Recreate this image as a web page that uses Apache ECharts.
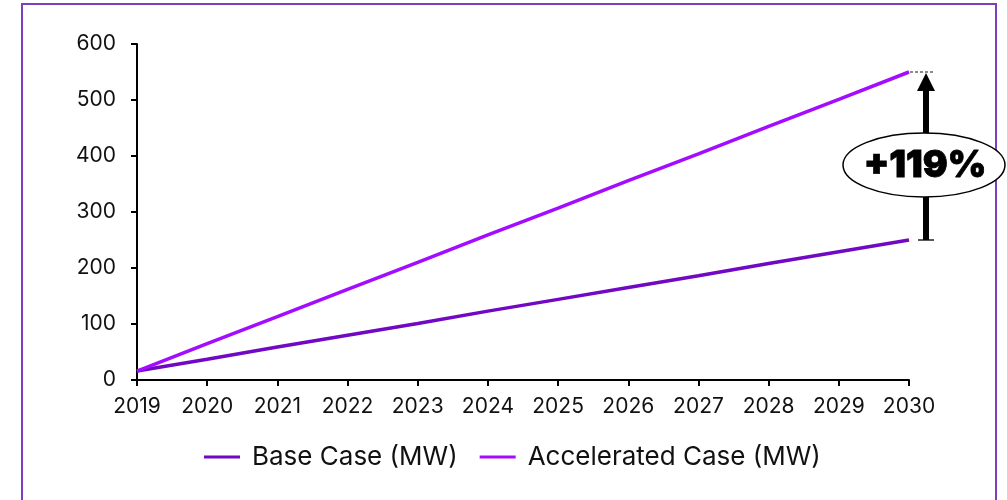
<!DOCTYPE html>
<html>
<head>
<meta charset="utf-8">
<script src="https://cdn.jsdelivr.net/npm/echarts@6/dist/echarts.min.js"></script>
<style>
  html, body { margin: 0; padding: 0; background: #fff; }
  #main { width: 1007px; height: 500px; }
</style>
</head>
<body>
<div id="main"></div>
<script>
// categories / values
var years = ["2019", "2020", "2021", "2022", "2023", "2024", "2025", "2026", "2027", "2028", "2029", "2030"];
var baseCase = [16, 37, 59, 80, 101, 123, 144, 165, 186, 208, 229, 250];
var accelCase = [16, 65, 113, 162, 210, 259, 307, 356, 404, 453, 501, 550];
var yTicks = [0, 100, 200, 300, 400, 500, 600];
var growthLabel = "+119%";

var baseColor = "#7008c4";
var accelColor = "#a30cff";
var fontName = "Inter";

var chart = echarts.init(document.getElementById("main"));

var option = {
  animation: false,
  backgroundColor: "#fff",
  grid: { left: 137, right: 98, top: 44, bottom: 120 },
  legend: {
    top: 439,
    left: 199,
    icon: "rect",
    itemWidth: 36,
    itemHeight: 3,
    itemGap: 22,
    textStyle: { fontFamily: fontName, fontSize: 26, color: "#111", padding: [0, 0, 0, 7] },
    data: ["Base Case (MW)", "Accelerated Case (MW)"]
  },
  xAxis: {
    type: "category",
    boundaryGap: false,
    data: years,
    axisLine: { lineStyle: { color: "#000", width: 2 } },
    axisTick: { show: true, length: 6, alignWithLabel: true, lineStyle: { color: "#000", width: 2 } },
    axisLabel: { fontFamily: fontName, fontSize: 21, color: "#111", margin: 16, interval: 0 }
  },
  yAxis: {
    type: "value",
    min: yTicks[0],
    max: yTicks[yTicks.length - 1],
    interval: 100,
    axisLine: { show: true, lineStyle: { color: "#000", width: 2 } },
    axisTick: { show: true, length: 6, lineStyle: { color: "#000", width: 2 } },
    splitLine: { show: false },
    axisLabel: { fontFamily: fontName, fontSize: 21, color: "#111", margin: 21 }
  },
  series: [
    {
      name: "Base Case (MW)",
      type: "line",
      data: baseCase,
      showSymbol: false,
      lineStyle: { color: baseColor, width: 3.5 },
      itemStyle: { color: baseColor }
    },
    {
      name: "Accelerated Case (MW)",
      type: "line",
      data: accelCase,
      showSymbol: false,
      lineStyle: { color: accelColor, width: 3.5 },
      itemStyle: { color: accelColor }
    }
  ]
};
chart.setOption(option);

// annotation: arrow from base end to accelerated end, placed via the axes
var last = years.length - 1;
var pBase = chart.convertToPixel({ gridIndex: 0 }, [years[last], baseCase[last]]);
var pAcc = chart.convertToPixel({ gridIndex: 0 }, [years[last], accelCase[last]]);
var ax = pAcc[0] + 17;
var midY = (pBase[1] + pAcc[1]) / 2 + 9;

chart.setOption({
  graphic: [
    // outer frame
    { type: "rect", shape: { x: 22, y: 4, width: 974, height: 520 }, style: { fill: null, stroke: "#7b3fc0", lineWidth: 2 }, z: 5 },
    // caps
    { type: "line", shape: { x1: pAcc[0] + 1, y1: pAcc[1], x2: ax + 8, y2: pAcc[1] }, style: { stroke: "#666", lineWidth: 1.5, lineDash: [3, 2] } },
    { type: "line", shape: { x1: ax - 8, y1: pBase[1], x2: ax + 8, y2: pBase[1] }, style: { stroke: "#222", lineWidth: 1.5 } },
    // shaft
    { type: "line", shape: { x1: ax, y1: pBase[1], x2: ax, y2: pAcc[1] + 16 }, style: { stroke: "#000", lineWidth: 6 } },
    // head
    { type: "polygon", shape: { points: [[ax, pAcc[1] + 1], [ax - 9, pAcc[1] + 19], [ax + 9, pAcc[1] + 19]] }, style: { fill: "#000" } },
    // ellipse label
    { type: "ellipse", shape: { cx: ax - 2, cy: midY, rx: 81, ry: 32 }, style: { fill: "#fff", stroke: "#000", lineWidth: 1.5 }, z: 10 },
    { type: "text", x: ax - 1, y: midY + 1, style: { text: growthLabel, fontFamily: fontName, fontWeight: 900, fontSize: 37, fill: "#000", stroke: "#000", lineWidth: 0.8, align: "center", verticalAlign: "middle" }, z: 11 }
  ]
});
</script>
</body>
</html>
